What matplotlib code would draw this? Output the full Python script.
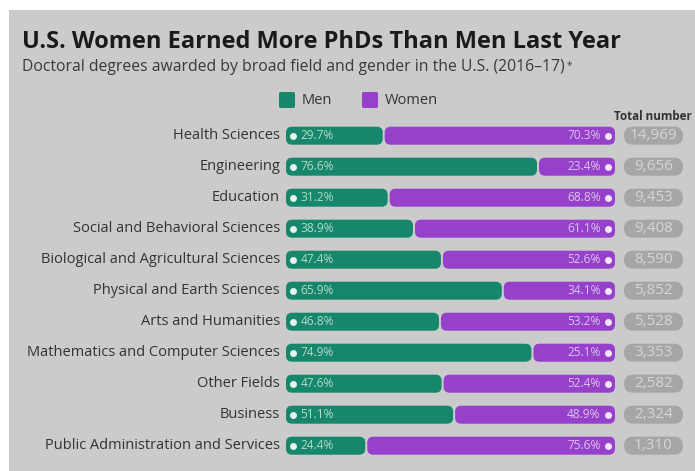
import matplotlib.pyplot as plt
from matplotlib.patches import FancyBboxPatch

# data
fields = ["Health Sciences", "Engineering", "Education", "Social and Behavioral Sciences",
          "Biological and Agricultural Sciences", "Physical and Earth Sciences",
          "Arts and Humanities", "Mathematics and Computer Sciences", "Other Fields",
          "Business", "Public Administration and Services"]
men = [29.7, 76.6, 31.2, 38.9, 47.4, 65.9, 46.8, 74.9, 47.6, 51.1, 24.4]
women = [70.3, 23.4, 68.8, 61.1, 52.6, 34.1, 53.2, 25.1, 52.4, 48.9, 75.6]
totals = ["14,969", "9,656", "9,453", "9,408", "8,590", "5,852", "5,528", "3,353",
          "2,582", "2,324", "1,310"]

BG = "#cbcbcb"
GREEN = "#16876a"
PURPLE = "#9640cc"
PILL = "#a6a6a6"
FONT = "Open Sans"

W, H = 695, 471
fig = plt.figure(figsize=(W / 100, H / 100), dpi=100)
fig.patch.set_facecolor("white")
fig.patches.append(FancyBboxPatch((9 / W, 0), 1 - 9 / W, 1 - 10 / H, boxstyle="square,pad=0",
                                  transform=fig.transFigure, facecolor=BG, edgecolor="none",
                                  zorder=-10))

# axes: x 0..100 maps to 286..615 px, row spacing 31 px
px_per_unit = 329 / 100
xmax = 122
ax_left = 286
ax_w = xmax * px_per_unit
row0, step = 135.7, 31
y_top = row0 - 0.6 * step
y_bot = row0 + 10 * step + 0.6 * step
ax = fig.add_axes([ax_left / W, (H - y_bot) / H, ax_w / W, (y_bot - y_top) / H])
ax.set_xlim(0, xmax)
ax.set_ylim(10.6, -0.6)
ax.axis("off")

bar_h = 18 / step
aspect = px_per_unit / step
gap = 1.0 / px_per_unit


def rbar(x, y, w, color):
    r = 6 / px_per_unit
    p = FancyBboxPatch((x, y - bar_h / 2), w, bar_h,
                       boxstyle=f"round,pad=0,rounding_size={r}",
                       mutation_aspect=aspect, facecolor=color, edgecolor="none")
    ax.add_patch(p)


for i, f in enumerate(fields):
    rbar(0, i, men[i] - gap, GREEN)
    rbar(men[i] + gap, i, women[i] - gap, PURPLE)
    ax.plot(2.2, i, "o", ms=5, color="#e9f2ee", mec="none")
    ax.text(4.4, i, f"{men[i]:.1f}%", va="center", ha="left", fontsize=8.6,
            color="#b6dacb", family=FONT)
    ax.plot(97.8, i, "o", ms=5, color="#f2e8f8", mec="none")
    ax.text(95.6, i, f"{women[i]:.1f}%", va="center", ha="right", fontsize=8.6,
            color="#dcc4ec", family=FONT)
    # total pill
    px0 = (624 - ax_left) / px_per_unit
    pw = 59 / px_per_unit
    p = FancyBboxPatch((px0, i - bar_h / 2), pw, bar_h,
                       boxstyle=f"round,pad=0,rounding_size={9 / px_per_unit}",
                       mutation_aspect=aspect, facecolor=PILL, edgecolor="none")
    ax.add_patch(p)
    ax.text(px0 + pw / 2, i, totals[i], ha="center", va="center", fontsize=11,
            color="#d6d6d6", family=FONT)
    ax.text(-1.8, i, f, ha="right", va="center", fontsize=10.5, color="#333333",
            family=FONT)

fig.text(22 / W, 1 - 42 / H, "U.S. Women Earned More PhDs Than Men Last Year", ha="left",
         va="center", fontsize=17, fontweight="bold", color="#1a1a1a", family=FONT)
sub = fig.text(22 / W, 1 - 67 / H,
               "Doctoral degrees awarded by broad field and gender in the U.S. (2016\u201317)",
               ha="left", va="center", fontsize=11.3, color="#3a3a3a", family=FONT)
# small superscript asterisk after the subtitle
plt.annotate("*", xy=(1, 1), xycoords=sub, xytext=(1, -1), textcoords="offset points",
             ha="left", va="top", fontsize=7, color="#3a3a3a", family=FONT,
             annotation_clip=False)
fig.text(692 / W, 1 - 116 / H, "Total number", ha="right", va="center", fontsize=8.4,
         fontweight="bold", color="#333333", family=FONT)

# legend
for x0, lab, col in [(279, "Men", GREEN), (362, "Women", PURPLE)]:
    fig.patches.append(FancyBboxPatch((x0 / W, 1 - 108 / H), 16 / W, 16 / H,
                                      boxstyle="round,pad=0,rounding_size=0.003",
                                      transform=fig.transFigure, facecolor=col,
                                      edgecolor="none"))
    fig.text((x0 + 23) / W, 1 - 100 / H, lab, ha="left", va="center", fontsize=10.5,
             color="#333333", family=FONT)

fig.savefig("out.png", dpi=100, facecolor=fig.get_facecolor())
